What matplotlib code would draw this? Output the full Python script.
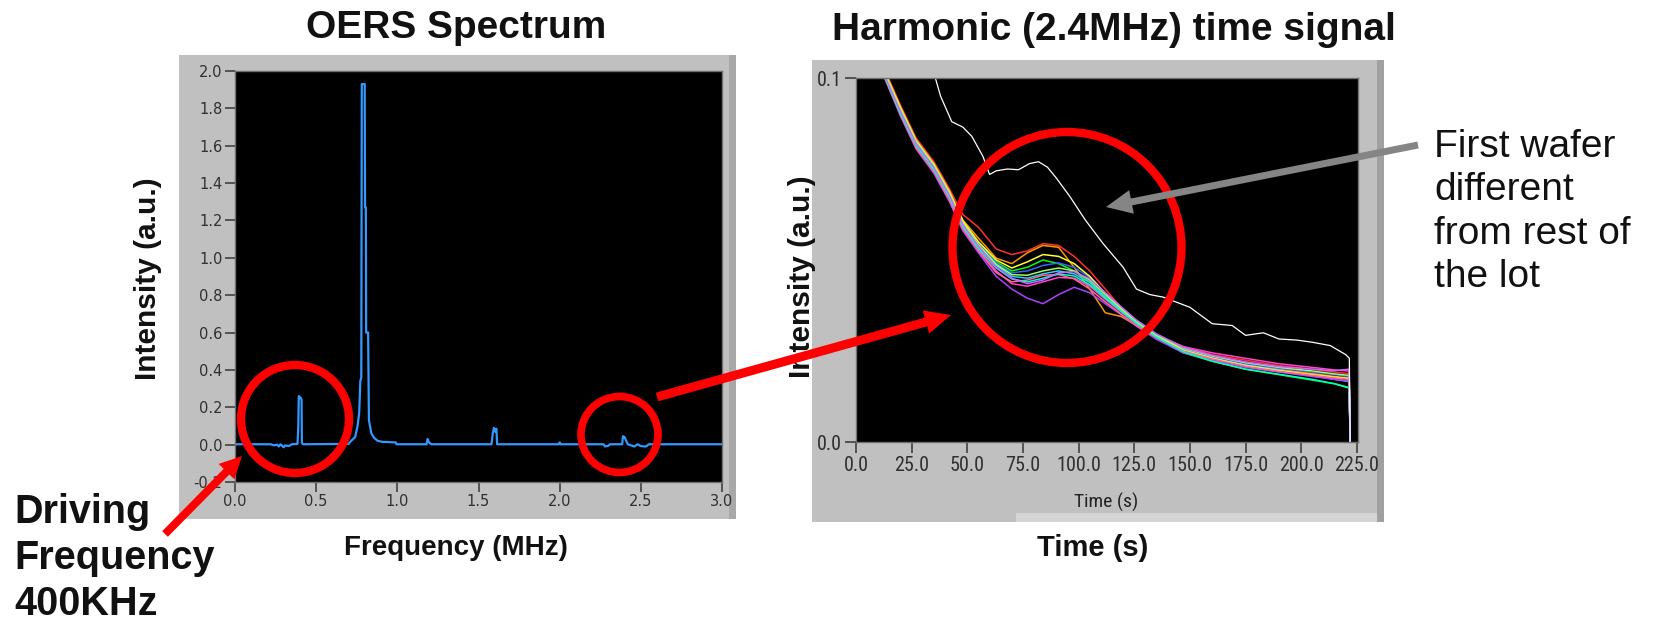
import numpy as np
import matplotlib.pyplot as plt
from matplotlib.patches import Rectangle, Ellipse, FancyArrow
from matplotlib.ticker import FormatStrFormatter

plt.rcParams['axes.unicode_minus'] = False
plt.rcParams['font.family'] = ['Liberation Sans', 'DejaVu Sans']
narrow = ['Roboto Condensed', 'Liberation Sans']

# ---- OERS spectrum (MHz vs a.u.)
freq = [0.00, 0.22, 0.24, 0.26, 0.27, 0.28, 0.29, 0.30, 0.31, 0.33, 0.35, 0.385,
        0.390, 0.393, 0.405, 0.410, 0.412, 0.42, 0.70, 0.715, 0.74, 0.755, 0.765,
        0.772, 0.778, 0.781, 0.799, 0.801, 0.806, 0.808, 0.820, 0.825, 0.84, 0.858,
        0.88, 0.907, 0.99, 0.995, 1.18, 1.187, 1.195, 1.21, 1.58, 1.588, 1.595,
        1.603, 1.61, 1.615, 1.995, 2.0, 2.005, 2.27, 2.28, 2.30, 2.31, 2.385, 2.39,
        2.40, 2.41, 2.42, 2.46, 2.48, 2.50, 2.53, 2.55, 3.0]
intensity = [0.002, 0.002, -0.004, 0.000, -0.010, 0.002, -0.006, -0.014, -0.004, -0.008, 0.002, 0.004,
             0.10, 0.26, 0.25, 0.24, 0.01, 0.002, 0.004, 0.02, 0.04, 0.10, 0.17,
             0.34, 0.36, 1.93, 1.93, 1.27, 1.27, 0.60, 0.60, 0.13, 0.06, 0.035,
             0.02, 0.015, 0.012, 0.002, 0.002, 0.03, 0.012, 0.002, 0.002, 0.06, 0.09,
             0.07, 0.085, 0.002, 0.002, 0.012, 0.002, 0.002, -0.010, -0.006, 0.002, 0.002, 0.045,
             0.04, 0.02, 0.002, -0.010, 0.002, -0.008, -0.010, 0.002, 0.002]

# ---- Harmonic (2.4MHz) time signal, one list per wafer of the lot
time_s = [12, 20, 27, 35, 42, 48, 55, 63, 70, 77, 84, 91, 98, 105, 112, 119, 126,
          135, 147, 160, 175, 190, 205, 215, 221.5, 222]
wafer_02 = [0.1035, 0.0925, 0.0835, 0.0770, 0.0695, 0.0625, 0.0590, 0.0530, 0.0515, 0.0525, 0.0545, 0.0540, 0.0510, 0.0470, 0.0420, 0.0370, 0.0330, 0.0295, 0.0262, 0.0240, 0.0225, 0.0210, 0.0200, 0.0192, 0.0188, 0.0]
wafer_03 = [0.1030, 0.0920, 0.0830, 0.0765, 0.0690, 0.0610, 0.0560, 0.0505, 0.0490, 0.0520, 0.0540, 0.0535, 0.0480, 0.0420, 0.0355, 0.0345, 0.0320, 0.0290, 0.0250, 0.0228, 0.0212, 0.0200, 0.0188, 0.0180, 0.0176, 0.0]
wafer_04 = [0.1025, 0.0910, 0.0822, 0.0757, 0.0680, 0.0600, 0.0545, 0.0495, 0.0470, 0.0480, 0.0500, 0.0490, 0.0470, 0.0440, 0.0400, 0.0360, 0.0325, 0.0285, 0.0245, 0.0222, 0.0200, 0.0185, 0.0170, 0.0160, 0.0150, 0.0]
wafer_05 = [0.1020, 0.0905, 0.0818, 0.0752, 0.0675, 0.0595, 0.0535, 0.0485, 0.0455, 0.0450, 0.0462, 0.0470, 0.0462, 0.0438, 0.0398, 0.0362, 0.0327, 0.0290, 0.0255, 0.0232, 0.0212, 0.0198, 0.0182, 0.0172, 0.0166, 0.0]
wafer_06 = [0.1015, 0.0895, 0.0805, 0.0738, 0.0660, 0.0580, 0.0520, 0.0455, 0.0420, 0.0395, 0.0380, 0.0405, 0.0425, 0.0410, 0.0380, 0.0350, 0.0318, 0.0282, 0.0245, 0.0225, 0.0205, 0.0192, 0.0180, 0.0172, 0.0168, 0.0]
wafer_07 = [0.1018, 0.0900, 0.0812, 0.0745, 0.0668, 0.0588, 0.0528, 0.0470, 0.0435, 0.0428, 0.0440, 0.0452, 0.0450, 0.0428, 0.0392, 0.0358, 0.0325, 0.0292, 0.0262, 0.0245, 0.0230, 0.0215, 0.0205, 0.0198, 0.0195, 0.0]
wafer_08 = [0.1022, 0.0912, 0.0825, 0.0760, 0.0683, 0.0603, 0.0545, 0.0492, 0.0465, 0.0470, 0.0485, 0.0492, 0.0480, 0.0452, 0.0410, 0.0370, 0.0332, 0.0295, 0.0258, 0.0235, 0.0216, 0.0203, 0.0192, 0.0185, 0.0180, 0.0]
wafer_09 = [0.1028, 0.0918, 0.0828, 0.0762, 0.0686, 0.0607, 0.0550, 0.0500, 0.0478, 0.0495, 0.0515, 0.0510, 0.0490, 0.0455, 0.0408, 0.0368, 0.0330, 0.0292, 0.0252, 0.0230, 0.0210, 0.0196, 0.0185, 0.0178, 0.0174, 0.0]
wafer_10 = [0.1024, 0.0915, 0.0826, 0.0760, 0.0683, 0.0603, 0.0542, 0.0488, 0.0460, 0.0458, 0.0470, 0.0478, 0.0470, 0.0445, 0.0405, 0.0366, 0.0330, 0.0293, 0.0258, 0.0236, 0.0218, 0.0205, 0.0195, 0.0187, 0.0183, 0.0]
wafer_11 = [0.1012, 0.0898, 0.0808, 0.0742, 0.0664, 0.0585, 0.0525, 0.0465, 0.0440, 0.0445, 0.0458, 0.0460, 0.0448, 0.0420, 0.0385, 0.0352, 0.0320, 0.0287, 0.0250, 0.0228, 0.0208, 0.0194, 0.0183, 0.0176, 0.0172, 0.0]
wafer_12 = [0.1016, 0.0902, 0.0815, 0.0748, 0.0672, 0.0592, 0.0532, 0.0478, 0.0448, 0.0440, 0.0450, 0.0462, 0.0456, 0.0432, 0.0395, 0.0360, 0.0326, 0.0288, 0.0248, 0.0222, 0.0200, 0.0186, 0.0172, 0.0160, 0.0148, 0.0]
wafer_13 = [0.1019, 0.0908, 0.0820, 0.0754, 0.0677, 0.0597, 0.0538, 0.0480, 0.0450, 0.0435, 0.0445, 0.0465, 0.0468, 0.0448, 0.0410, 0.0372, 0.0335, 0.0297, 0.0260, 0.0238, 0.0220, 0.0207, 0.0200, 0.0196, 0.0200, 0.0]
lot_colors = ['#ff3030', '#ff9900', '#00ff00', '#33ccff', '#b040ff', '#ff44cc',
              '#3366ff', '#ffff33', '#99ff66', '#ff6699', '#00ffcc', '#cc66ff']

first_wafer_t = [34, 38, 43, 48, 52, 57, 60, 63, 68, 73, 78, 82, 86, 90, 96, 103, 111,
                 120, 126, 132, 138, 150, 160, 169, 175, 183, 190, 198, 205, 213, 220, 221.6, 222]
first_wafer_v = [0.1035, 0.0950, 0.0880, 0.0865, 0.0840, 0.0785, 0.0735, 0.0745, 0.0750, 0.0748, 0.0765,
                 0.0770, 0.0755, 0.0725, 0.0675, 0.0610, 0.0545, 0.0480, 0.0420, 0.0405, 0.0398, 0.0370,
                 0.0325, 0.0320, 0.0293, 0.0300, 0.0283, 0.0280, 0.0274, 0.0265, 0.0240, 0.0230, 0.0]

W, H = 1661, 625
fig = plt.figure(figsize=(W / 100, H / 100), dpi=100)

# background layer (gray LabVIEW frames), pixel coordinates
bg = fig.add_axes([0, 0, 1, 1], zorder=0)
bg.set_xlim(0, W)
bg.set_ylim(H, 0)
bg.axis('off')
bg.add_patch(Rectangle((179, 55), 557, 464, color='#c0c0c0', lw=0))
bg.add_patch(Rectangle((729, 55), 7, 464, color='#a8a8a8', lw=0))
bg.add_patch(Rectangle((812, 60), 572, 462, color='#c0c0c0', lw=0))
bg.add_patch(Rectangle((1377, 60), 7, 462, color='#a0a0a0', lw=0))
bg.add_patch(Rectangle((1016, 513), 361, 9, color='#d4d4d4', lw=0))
bg.text(148, 279, 'Intensity (a.u.)', rotation=90, ha='center', va='center',
        fontsize=21.5, fontweight='bold', color='#111111')
bg.text(802, 277, 'Intensity (a.u.)', rotation=90, ha='center', va='center',
        fontsize=21.5, fontweight='bold', color='#111111')
bg.text(1106, 502, 'Time (s)', ha='center', va='center', fontsize=14,
        family=narrow, color='#222222')

# left: spectrum
ax1 = fig.add_axes([235 / W, 1 - 482 / H, 487 / W, 411 / H], zorder=2)
ax1.set_facecolor('black')
ax1.plot(freq, intensity, color='#3399ff', lw=1.6)
ax1.set_xlim(0, 3.0)
ax1.set_ylim(-0.2, 2.0)
ax1.set_xticks(np.arange(0, 3.01, 0.5))
ax1.set_yticks(np.arange(-0.2, 2.01, 0.2))
ax1.xaxis.set_major_formatter(FormatStrFormatter('%.1f'))
ax1.yaxis.set_major_formatter(FormatStrFormatter('%.1f'))
ax1.tick_params(direction='out', length=7, width=1.2, color='#404040',
                labelcolor='#303030', labelsize=10.5, pad=2)
for lab in ax1.get_xticklabels() + ax1.get_yticklabels():
    lab.set_family('DejaVu Sans')

# right: time signal
ax2 = fig.add_axes([856 / W, 1 - 442 / H, 502 / W, 364 / H], zorder=2)
ax2.set_facecolor('black')
lot = [wafer_02, wafer_03, wafer_04, wafer_05, wafer_06, wafer_07,
       wafer_08, wafer_09, wafer_10, wafer_11, wafer_12, wafer_13]
for vals, c in zip(lot, lot_colors):
    ax2.plot(time_s, vals, color=c, lw=1.1)
ax2.plot(first_wafer_t, first_wafer_v, color='white', lw=0.9)
ax2.set_xlim(0, 225.5)
ax2.set_ylim(0, 0.1)
ax2.set_xticks(np.arange(0, 226, 25))
ax2.set_yticks([0, 0.1])
ax2.xaxis.set_major_formatter(FormatStrFormatter('%.1f'))
ax2.yaxis.set_major_formatter(FormatStrFormatter('%.1f'))
ax2.tick_params(direction='out', length=8, width=1.2, color='#404040',
                labelcolor='#303030', labelsize=14.5, pad=2)
for lab in ax2.get_xticklabels() + ax2.get_yticklabels():
    lab.set_family(narrow)

for ax in (ax1, ax2):
    for s in ax.spines.values():
        s.set_color('#707070')
        s.set_linewidth(1)

# foreground annotations, pixel coordinates
fg = fig.add_axes([0, 0, 1, 1], zorder=10)
fg.set_xlim(0, W)
fg.set_ylim(H, 0)
fg.axis('off')
fg.patch.set_alpha(0)

fg.text(456, 28, 'OERS Spectrum', ha='center', va='center', fontsize=28, fontweight='bold', color='#111111')
fg.text(1114, 30, 'Harmonic (2.4MHz) time signal', ha='center', va='center', fontsize=28,
        fontweight='bold', color='#111111')
fg.text(456, 548, 'Frequency (MHz)', ha='center', va='center', fontsize=20, fontweight='bold', color='#111111')
fg.text(1093, 548, 'Time (s)', ha='center', va='center', fontsize=21, fontweight='bold', color='#111111')
fg.text(14, 558, 'Driving\nFrequency\n400KHz', ha='left', va='center', fontsize=28.5,
        fontweight='bold', color='#111111', linespacing=1.27)
fg.text(1434, 212, 'First wafer\ndifferent\nfrom rest of\nthe lot', ha='left', va='center',
        fontsize=28, color='#111111', linespacing=1.27)

fg.add_patch(Ellipse((295, 419), 108, 108, fill=False, ec='#ff0000', lw=6))
fg.add_patch(Ellipse((619.5, 434.5), 77, 76, fill=False, ec='#ff0000', lw=5.5))
fg.add_patch(Ellipse((1067, 247.5), 229, 231, fill=False, ec='#ff0000', lw=6))

fg.add_patch(FancyArrow(165, 534, 77, -78, width=8, head_width=22, head_length=22,
                        length_includes_head=True, color='#ff0000', lw=0, zorder=5))
fg.add_patch(FancyArrow(657, 397, 294, -82, width=9, head_width=24, head_length=26,
                        length_includes_head=True, color='#ff0000', lw=0, zorder=5))
fg.add_patch(FancyArrow(1418, 145, -312, 62, width=7, head_width=24, head_length=26,
                        length_includes_head=True, color='#858585', lw=0, zorder=5))

fig.savefig('out.png', dpi=100)
